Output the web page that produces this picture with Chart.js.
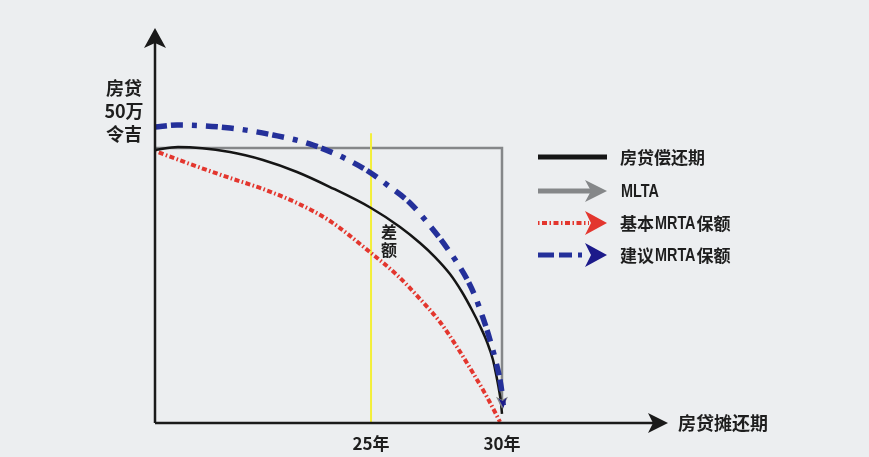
<!DOCTYPE html>
<html>
<head>
<meta charset="utf-8">
<script src="https://cdn.jsdelivr.net/npm/chart.js@4/dist/chart.umd.min.js"></script>
<style>
  html, body { margin: 0; padding: 0; background: #eceef0; }
  #wrap { width: 869px; height: 457px; position: relative; }
</style>
</head>
<body>
<div id="wrap"><canvas id="c" width="869" height="457"></canvas></div>
<script>
// x: position along the repayment term (schematic 0–100), y: amount in 万令吉
const tickPositions = [42.11, 67.64];
const tickLabels = ['25年', '30年'];

const seriesNames = ['房贷偿还期', 'MLTA', '基本MRTA保额', '建议MRTA保额'];

// 房贷偿还期 (outstanding loan)
const loanX = [0, 4.48, 14.62, 21.05, 27.68, 34.11, 42.11, 47.76, 51.66, 54.58, 57.50, 59.84, 61.79, 63.35, 64.72, 65.89, 66.47, 67.06, 67.45, 67.64];
const loanY = [49.64, 50.18, 49.27, 47.82, 45.64, 42.91, 39.09, 35.64, 32.73, 30.18, 27.09, 23.82, 20.55, 17.64, 14.73, 11.45, 8.91, 6.0, 3.64, 1.64];

// MLTA (level cover)
const mltaX = [0, 67.64, 67.64];
const mltaY = [50, 50, 2.6];

// 基本MRTA保额
const basicX = [0, 6.82, 14.62, 21.05, 27.68, 34.11, 42.11, 47.17, 51.66, 55.56, 58.87, 61.99, 64.72, 66.86, 67.25];
const basicY = [49.45, 47.09, 44.55, 42.55, 40.0, 36.73, 30.91, 26.91, 22.55, 18.36, 13.82, 9.09, 4.73, 0.91, 0.18];

// 建议MRTA保额
const suggestX = [0, 4.29, 14.62, 23.0, 30.8, 40.55, 45.81, 49.71, 54.58, 56.92, 59.06, 60.80, 62.38, 63.74, 64.72, 65.69, 66.47, 67.25, 67.64, 67.93];
const suggestY = [53.82, 54.18, 53.64, 52.36, 50.55, 46.36, 42.91, 40.0, 34.73, 31.82, 28.91, 26.18, 23.09, 19.64, 16.91, 13.82, 11.09, 7.82, 5.45, 2.73];

// 25年 marker
const markerX = [tickPositions[0], tickPositions[0]];
const markerY = [0, 52.7];

const yMax = 71.82;

const pts = (xs, ys) => xs.map((x, i) => ({ x, y: ys[i] }));

const COLORS = {
  loan: '#151515',
  mlta: '#858789',
  basic: '#e3362e',
  suggest: '#24309a',
  suggestHead: '#1c1a8a',
  marker: '#f3ef3a',
  axis: '#1a1a1a',
  text: '#1e1e1e'
};
const CJK = "'Noto Sans CJK SC', 'Noto Sans', sans-serif";
const BASIC_DASH = [1.5, 2.5, 5, 2.5];
const SUGGEST_DASH = [12, 4, 12, 9, 5, 9];

function arrowHead(ctx, tx, ty, angle, len, half, notch, color) {
  ctx.save();
  ctx.translate(tx, ty);
  ctx.rotate(angle);
  ctx.beginPath();
  ctx.moveTo(0, 0);
  ctx.lineTo(-len, -half);
  ctx.lineTo(-len + notch, 0);
  ctx.lineTo(-len, half);
  ctx.closePath();
  ctx.fillStyle = color;
  ctx.fill();
  ctx.restore();
}

const backgroundPlugin = {
  id: 'bg',
  beforeDraw(chart) {
    const ctx = chart.ctx;
    ctx.save();
    ctx.fillStyle = '#eceef0';
    ctx.fillRect(0, 0, chart.width, chart.height);
    ctx.restore();
  }
};

const decorPlugin = {
  id: 'decor',
  afterDatasetsDraw(chart) {
    const ctx = chart.ctx;
    const a = chart.chartArea;
    const xs = chart.scales.x, ys = chart.scales.y;

    // arrow tips at the end of MLTA and suggested cover curves
    const tip = (xArr, yArr, color, len, half) => {
      const n = xArr.length;
      const x1 = xs.getPixelForValue(xArr[n - 2]), y1 = ys.getPixelForValue(yArr[n - 2]);
      const x2 = xs.getPixelForValue(xArr[n - 1]), y2 = ys.getPixelForValue(yArr[n - 1]);
      arrowHead(ctx, x2, y2, Math.atan2(y2 - y1, x2 - x1), len, half, 3, color);
    };
    tip(mltaX, mltaY, COLORS.mlta, 12, 6);
    tip(suggestX, suggestY, COLORS.suggestHead, 10, 4);

    // axes with arrowheads
    ctx.save();
    ctx.strokeStyle = COLORS.axis;
    ctx.lineWidth = 2.5;
    ctx.beginPath();
    ctx.moveTo(a.left, a.bottom);
    ctx.lineTo(a.right - 12, a.bottom);
    ctx.moveTo(a.left, a.bottom);
    ctx.lineTo(a.left, a.top + 12);
    ctx.stroke();
    ctx.restore();
    arrowHead(ctx, a.right, a.bottom, 0, 20, 10, 5, COLORS.axis);
    arrowHead(ctx, a.left, a.top, -Math.PI / 2, 20, 11, 5, COLORS.axis);

    // axis captions
    ctx.save();
    ctx.fillStyle = COLORS.text;
    ctx.font = `bold 18px ${CJK}`;
    ctx.textBaseline = 'middle';
    ctx.textAlign = 'center';
    ['房贷', '50万', '令吉'].forEach((t, i) => ctx.fillText(t, a.left - 31, 88 + i * 23));
    ctx.textAlign = 'left';
    ctx.fillText('房贷摊还期', a.right + 10, a.bottom);

    // gap note beside the 25年 marker
    ctx.font = `bold 16px ${CJK}`;
    ctx.textAlign = 'center';
    const gx = xs.getPixelForValue(tickPositions[0]) + 18;
    ctx.fillText('差', gx, 232);
    ctx.fillText('额', gx, 250);
    ctx.restore();

    // legend
    const lx0 = 538, lx1 = 607, tx = 620;
    const rows = [157, 191, 223, 255];
    ctx.save();
    ctx.lineCap = 'butt';
    // 房贷偿还期
    ctx.strokeStyle = COLORS.loan; ctx.lineWidth = 5;
    ctx.beginPath(); ctx.moveTo(lx0, rows[0]); ctx.lineTo(lx1, rows[0]); ctx.stroke();
    // MLTA
    ctx.strokeStyle = COLORS.mlta; ctx.lineWidth = 5;
    ctx.beginPath(); ctx.moveTo(lx0, rows[1]); ctx.lineTo(lx1 - 16, rows[1]); ctx.stroke();
    arrowHead(ctx, lx1, rows[1], 0, 22, 11, 6, COLORS.mlta);
    // 基本MRTA保额
    ctx.strokeStyle = COLORS.basic; ctx.lineWidth = 4;
    ctx.setLineDash(BASIC_DASH);
    ctx.beginPath(); ctx.moveTo(lx0, rows[2]); ctx.lineTo(lx1 - 18, rows[2]); ctx.stroke();
    ctx.setLineDash([]);
    arrowHead(ctx, lx1, rows[2], 0, 22, 12, 6, COLORS.basic);
    // 建议MRTA保额
    ctx.strokeStyle = COLORS.suggest; ctx.lineWidth = 5;
    ctx.setLineDash([16, 5, 13, 6, 4, 20]);
    ctx.beginPath(); ctx.moveTo(lx0, rows[3]); ctx.lineTo(lx1 - 18, rows[3]); ctx.stroke();
    ctx.setLineDash([]);
    arrowHead(ctx, lx1, rows[3], 0, 22, 12, 6, COLORS.suggestHead);

    ctx.fillStyle = COLORS.text;
    ctx.textBaseline = 'middle';
    ctx.textAlign = 'left';
    const squeeze = 0.8;
    seriesNames.forEach((name, i) => {
      let x = tx;
      const parts = name.split(/([A-Z]+)/).filter(Boolean);
      parts.forEach(p => {
        if (/^[A-Z]+$/.test(p)) {
          // condensed Latin lettering
          ctx.font = "bold 18px 'Liberation Sans', 'DejaVu Sans', sans-serif";
          const w = ctx.measureText(p).width * squeeze;
          ctx.save();
          ctx.translate(x + 1, rows[i] + 1);
          ctx.scale(squeeze, 1);
          ctx.fillText(p, 0, 0);
          ctx.restore();
          x += w + 2;
        } else {
          ctx.font = `bold 17px ${CJK}`;
          ctx.fillText(p, x, rows[i] + 1);
          x += ctx.measureText(p).width;
        }
      });
    });
    ctx.restore();
  }
};

new Chart(document.getElementById('c'), {
  type: 'line',
  data: {
    datasets: [
      { label: seriesNames[3], data: pts(suggestX, suggestY), borderColor: COLORS.suggest,
        borderWidth: 5.5, borderDash: SUGGEST_DASH, cubicInterpolationMode: 'monotone' },
      { label: seriesNames[0], data: pts(loanX, loanY), borderColor: COLORS.loan,
        borderWidth: 2.5, cubicInterpolationMode: 'monotone' },
      { label: seriesNames[2], data: pts(basicX, basicY), borderColor: COLORS.basic,
        borderWidth: 4, borderDash: BASIC_DASH, cubicInterpolationMode: 'monotone' },
      { label: '25年', data: pts(markerX, markerY), borderColor: COLORS.marker,
        borderWidth: 2, tension: 0 },
      { label: seriesNames[1], data: pts(mltaX, mltaY), borderColor: COLORS.mlta,
        borderWidth: 2.5, tension: 0 }
    ]
  },
  options: {
    responsive: false,
    animation: false,
    layout: { padding: { left: 155, right: 201, top: 28, bottom: 0 } },
    elements: { point: { radius: 0 }, line: { fill: false, borderCapStyle: 'butt' } },
    plugins: { legend: { display: false }, tooltip: { enabled: false } },
    scales: {
      x: {
        type: 'linear', min: 0, max: 100,
        grid: { display: false, drawTicks: false },
        border: { display: false },
        afterFit(s) { s.height = 34; },
        afterBuildTicks(s) { s.ticks = tickPositions.map(v => ({ value: v })); },
        ticks: {
          autoSkip: false, maxRotation: 0, padding: 10, color: COLORS.text,
          font: { family: CJK, size: 17, weight: 'bold' },
          callback: (v, i) => tickLabels[i]
        }
      },
      y: { type: 'linear', min: 0, max: yMax, display: false }
    }
  },
  plugins: [backgroundPlugin, decorPlugin]
});
</script>
</body>
</html>
